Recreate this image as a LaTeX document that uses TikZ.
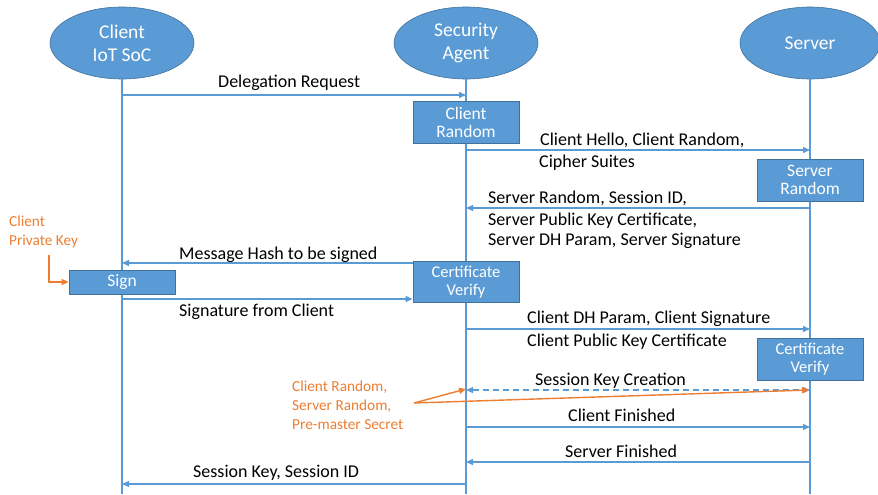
\documentclass[tikz,border=0pt]{standalone}
\usepackage{fontspec}
\setmainfont{Carlito}
\usetikzlibrary{shapes.geometric,arrows.meta}
\definecolor{lblue}{HTML}{5B9BD5}
\definecolor{dblue}{HTML}{41719C}
\definecolor{orng}{HTML}{ED7D31}
\begin{document}
\begin{tikzpicture}[x=1pt,y=-1pt,
 actor/.style={ellipse,fill=lblue,draw=dblue,line width=0.6pt,minimum width=144pt,minimum height=72pt,inner sep=0pt,text=white,align=center,font=\fontsize{19.5}{23}\selectfont},
 procbox/.style={rectangle,fill=lblue,draw=dblue,line width=0.8pt,minimum width=106pt,inner sep=0pt,text=white,align=center,font=\fontsize{17.5}{18}\selectfont},
 life/.style={lblue,line width=1.4pt},
 msg/.style={lblue,line width=1.3pt,-{Triangle[length=7pt,width=6pt]}},
 lbl/.style={anchor=base west,inner sep=0pt,font=\fontsize{18}{21}\selectfont},
 note/.style={anchor=base west,inner sep=0pt,text=orng,font=\fontsize{15.3}{16}\selectfont},
 hint/.style={orng,line width=1.4pt,-{Triangle[length=7pt,width=6pt]}}]
\useasboundingbox (0,0) rectangle (878,495);

% actors
\node[actor] (client) at (122,43) {Client\\IoT SoC};
\node[actor] (agent) at (466,43) {Security\\Agent};
\node[actor,minimum width=140pt] (server) at (810,43) {Server};

% lifelines
\coordinate (clientEnd) at (122,494);
\coordinate (agentEnd) at (466,494);
\coordinate (serverEnd) at (810,494);
\draw[life] (client.south) -- (clientEnd);
\draw[life] (agent.south) -- (agentEnd);
\draw[life] (server.south) -- (serverEnd);

% process boxes
\node[procbox,minimum height=42pt] (cr) at (466,122) {Client\\Random};
\node[procbox,minimum height=42pt] (sr) at (810,180) {Server\\Random};
\node[procbox,minimum height=41pt,font=\fontsize{16.5}{18}\selectfont] (cv1) at (466,282) {Certificate\\Verify};
\node[procbox,minimum height=24pt] (sg) at (122,282) {Sign};
\node[procbox,minimum height=42pt,font=\fontsize{16.5}{18}\selectfont] (cv2) at (810,359) {Certificate\\Verify};

% message rows
\coordinate (y1) at (0,95);
\coordinate (y2) at (0,150);
\coordinate (y3) at (0,208);
\coordinate (y4) at (0,263);
\coordinate (y5) at (0,299);
\coordinate (y6) at (0,329);
\coordinate (y7) at (0,390);
\coordinate (y8) at (0,427);
\coordinate (y9) at (0,462);
\coordinate (y10) at (0,484);

\draw[msg] (client.south |- y1) -- (agent.south |- y1);
\draw[msg] (agent.south |- y2) -- (server.south |- y2);
\draw[msg] (server.south |- y3) -- (agent.south |- y3);
\draw[msg] (cv1.west |- y4) -- (client.south |- y4);
\draw[msg] (client.south |- y5) -- (cv1.west |- y5);
\draw[msg] (agent.south |- y6) -- (server.south |- y6);
\draw[lblue,line width=1.3pt,dash pattern=on 6pt off 4pt,{Triangle[length=7pt,width=6pt]}-{Triangle[length=7pt,width=6pt]}] (agent.south |- y7) -- (server.south |- y7);
\draw[msg] (agent.south |- y8) -- (server.south |- y8);
\draw[msg] (server.south |- y9) -- (agent.south |- y9);
\draw[msg] (agent.south |- y10) -- (client.south |- y10);

% labels
\node[lbl] (l1) at (218,88) {Delegation Request};
\node[lbl] (l2a) at (540,145) {Client Hello, Client Random,};
\node[lbl] (l2b) at (539,167) {Cipher Suites};
\node[lbl] (l3a) at (488,203) {Server Random, Session ID,};
\node[lbl] (l3b) at (488,225) {Server Public Key Certificate,};
\node[lbl] (l3c) at (488,245) {Server DH Param, Server Signature};
\node[lbl] (l4) at (179,259) {Message Hash to be signed};
\node[lbl] (l5) at (179,316) {Signature from Client};
\node[lbl] (l6a) at (527,323) {Client DH Param, Client Signature};
\node[lbl] (l6b) at (527,346) {Client Public Key Certificate};
\node[lbl] (l7) at (535,385) {Session Key Creation};
\node[lbl] (l8) at (568,421) {Client Finished};
\node[lbl] (l9) at (565,457) {Server Finished};
\node[lbl] (l10) at (193,477) {Session Key, Session ID};

% orange notes
\node[note] (pk1) at (9,226) {Client};
\node[note] (pk2) at (9,245) {Private Key};
\coordinate (pkStart) at (49,255);
\draw[hint] (pkStart) |- (sg.west);

\node[note] (n1) at (292,391) {Client Random,};
\node[note] (n2) at (292,410) {Server Random,};
\node[note] (n3) at (292,429) {Pre-master Secret};
\coordinate (hs) at (414,403);
\coordinate (ha) at (466,389);
\coordinate (hb) at (809,390);
\draw[hint] (hs) -- (ha);
\draw[hint] (hs) -- (hb);
\end{tikzpicture}
\end{document}
